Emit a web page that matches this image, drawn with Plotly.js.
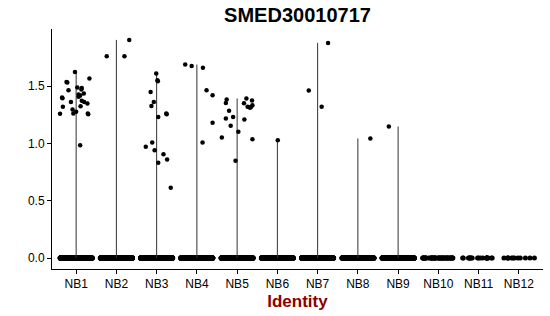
<!DOCTYPE html>
<html>
<head>
<meta charset="utf-8">
<script src="https://cdn.plot.ly/plotly-3.0.1.min.js"></script>
<style>html,body{margin:0;padding:0;background:#fff;}#chart{width:550px;height:316px;}</style>
</head>
<body>
<div id="chart"></div>
<script>
// Cluster identities (x categories)
const categories = ['NB1','NB2','NB3','NB4','NB5','NB6','NB7','NB8','NB9','NB10','NB11','NB12'];
// Estimated number of cells with zero expression per identity
const zeroCounts = [600, 520, 580, 600, 520, 440, 520, 440, 400, 50, 20, 12];
// Non-zero expression cells: identity index, expression value, horizontal jitter
const exprGroup = [
  0,0,0,0,0,0,0,0,0,0,0,0,0,0,0,0,0,0,0,0,0,0,0,0,0,0,0,
  1,1,1,
  2,2,2,2,2,2,2,2,2,2,2,2,2,2,2,2,
  3,3,3,3,3,3,3,
  4,4,4,4,4,4,4,4,4,4,4,4,4,4,4,4,4,4,
  5,
  6,6,6,
  7,
  8
];
const exprValue = [
  1.625,1.567,1.537,1.532,1.465,1.489,1.485,1.471,1.401,1.395,1.427,1.419,1.436,1.407,1.372,1.363,1.349,1.363,1.320,1.326,1.297,1.276,1.262,1.259,1.262,1.255,0.985,
  1.762,1.762,1.904,
  1.611,1.552,1.544,1.450,1.363,1.328,1.262,1.255,1.232,1.009,0.971,0.942,0.907,0.861,0.831,0.613,
  1.689,1.677,1.660,1.465,1.421,1.180,1.009,
  1.384,1.354,1.393,1.375,1.352,1.320,1.311,1.334,1.320,1.285,1.218,1.232,1.154,1.210,1.102,1.053,1.038,0.849,
  1.029,
  1.878,1.462,1.320,
  1.044,
  1.148
];
const exprJitter = [
  -0.03,0.33,-0.24,-0.22,-0.19,0.03,0.14,0.13,-0.35,-0.34,0.06,0.10,0.19,0.06,0.14,0.20,0.28,-0.13,-0.33,0.11,-0.09,0.00,-0.07,-0.40,0.29,0.30,0.10,
  -0.24,0.20,0.32,
  -0.01,0.02,0.03,-0.15,-0.07,-0.13,0.24,0.25,0.04,-0.11,-0.27,-0.05,0.17,0.26,0.04,0.35,
  -0.29,-0.13,0.15,0.24,0.39,0.39,0.14,
  -0.26,-0.28,0.23,0.37,0.17,0.26,0.32,0.38,0.35,-0.20,-0.28,-0.10,-0.16,0.18,0.03,-0.38,0.38,-0.04,
  0.01,
  0.26,-0.22,0.10,
  0.31,
  -0.23
];

const FONT = 'Liberation Sans, Arial, Helvetica, sans-serif';

// violin spines: from 0 to the group maximum
const lineX = [], lineY = [];
categories.forEach((c, i) => {
  let mx = 0;
  exprGroup.forEach((g, k) => { if (g === i && exprValue[k] > mx) mx = exprValue[k]; });
  if (mx > 0) { lineX.push(i, i, null); lineY.push(0, mx, null); }
});

// zero-expression cells, jittered by the library
const zx = [], zy = [];
categories.forEach((c, i) => { for (let k = 0; k < zeroCounts[i]; k++) { zx.push(i); zy.push(0); } });

const traces = [
  { type: 'scatter', mode: 'lines', x: lineX, y: lineY,
    line: { color: '#333333', width: 1 }, hoverinfo: 'skip', showlegend: false },
  { type: 'box', x: zx, y: zy, boxpoints: 'all', jitter: 1, pointpos: 0, width: 0.8,
    fillcolor: 'rgba(0,0,0,0)', line: { color: 'rgba(0,0,0,0)', width: 0 },
    marker: { color: '#000000', size: 5 }, hoverinfo: 'skip', showlegend: false },
  { type: 'scatter', mode: 'markers',
    x: exprGroup.map((g, k) => g + exprJitter[k]), y: exprValue,
    marker: { color: '#000000', size: 4.5 }, hoverinfo: 'skip', showlegend: false }
];

const layout = {
  width: 550, height: 316,
  margin: { l: 52, r: 7, t: 29, b: 47 },
  paper_bgcolor: '#ffffff', plot_bgcolor: '#ffffff',
  font: { family: FONT, color: '#000000' },
  title: { text: 'SMED30010717', font: { family: FONT, size: 20, weight: 'bold', color: '#000000' },
           x: 0.5, xref: 'paper', xanchor: 'center', y: 0.93, yref: 'container', yanchor: 'bottom' },
  xaxis: {
    range: [-0.6, 11.6], tickmode: 'array', tickvals: categories.map((c, i) => i), ticktext: categories,
    showgrid: false, zeroline: false, showline: true, linecolor: '#000000', linewidth: 1,
    ticks: 'outside', ticklen: 4, tickcolor: '#000000', tickwidth: 1,
    tickfont: { family: FONT, size: 12, color: '#000000' },
    title: { text: 'Identity', font: { family: FONT, size: 17, weight: 'bold', color: '#8B0000' }, standoff: 4 },
    automargin: false, fixedrange: true
  },
  yaxis: {
    range: [-0.0952, 1.9992], tickmode: 'array', tickvals: [0, 0.5, 1, 1.5], ticktext: ['0.0','0.5','1.0','1.5'],
    showgrid: false, zeroline: false, showline: true, linecolor: '#000000', linewidth: 1,
    ticks: 'outside', ticklen: 4, tickcolor: '#000000', tickwidth: 1,
    tickfont: { family: FONT, size: 12, color: '#000000' },
    automargin: false, fixedrange: true
  },
  showlegend: false
};

Plotly.newPlot('chart', traces, layout, { staticPlot: true, displayModeBar: false });
</script>
</body>
</html>
